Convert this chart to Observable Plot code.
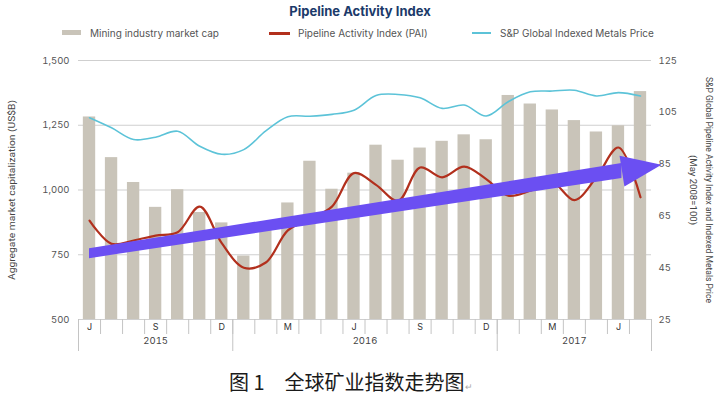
<!DOCTYPE html>
<html><head><meta charset="utf-8">
<script src="https://cdn.jsdelivr.net/npm/d3@7"></script>
<script src="https://cdn.jsdelivr.net/npm/@observablehq/plot@0.6"></script>
<style>
body{margin:0;background:#fff;width:720px;height:397px;overflow:hidden;position:relative;font-family:Inter,Roboto,sans-serif}
#title{position:absolute;top:3px;left:0;width:720px;text-align:center;font-weight:700;font-size:13px;line-height:16px;color:#1b3a6a}
.lt{position:absolute;top:27px;font-size:10px;line-height:12px;color:#555;white-space:nowrap}
.sw{position:absolute}
#chart{position:absolute;top:46px;left:0}
#chart svg{overflow:visible}
#caption{position:absolute;left:229px;top:369px;font-family:"Noto Sans CJK SC",sans-serif;font-size:20px;line-height:26px;color:#1a1a1a;white-space:pre}
#caption span{font-size:9px;color:#aaa}
</style>
</head><body>
<div id="title">Pipeline Activity Index</div>
<div class="sw" style="left:62px;top:30px;width:19px;height:5px;background:#c9c4b9"></div>
<div class="lt" style="left:90px">Mining industry market cap</div>
<div class="sw" style="left:269px;top:32px;width:21px;height:2.5px;background:#b2301d"></div>
<div class="lt" style="left:298px">Pipeline Activity Index (PAI)</div>
<div class="sw" style="left:472px;top:32px;width:19px;height:2px;background:#5cc3d8"></div>
<div class="lt" style="left:500px">S&amp;P Global Indexed Metals Price</div>
<div id="chart"></div>
<div id="caption">图 1　全球矿业指数走势图<span>↵</span></div>
<script>
// Monthly data, Jun 2015 – Jul 2017
const months = ["2015-06","2015-07","2015-08","2015-09","2015-10","2015-11","2015-12",
  "2016-01","2016-02","2016-03","2016-04","2016-05","2016-06","2016-07","2016-08","2016-09","2016-10","2016-11","2016-12",
  "2017-01","2017-02","2017-03","2017-04","2017-05","2017-06","2017-07"];
// Mining industry market cap (US$B, left axis)
const marketCap = [1282,1125,1029,933,1001,913,873, 745,843,950,1111,1003,1065,1173,1115,1162,1188,1213,1194, 1365,1332,1309,1268,1224,1248,1380];
// Pipeline Activity Index (right axis)
const pai = [63.2,54.2,55.5,57.4,58.7,68.6,54.5, 45,47,59.4,63.8,68.6,81.5,77,70.8,83.7,79.9,84,79.2, 72.8,74.7,77.9,71.1,79.9,91.4,72.2];
// S&P Global Indexed Metals Price (right axis)
const metals = [102.9,99,94.5,95.4,97.7,91.9,88.8, 90.6,97.8,103.3,103.5,104.2,105.8,111.5,111.9,110.6,106.5,107.8,103.6, 109.1,112.9,113.2,113.5,111.3,112.6,111.3];

// Axis ticks and labels
const leftTicks = [500,750,1000,1250,1500];
const gridValues = [500,750,1000,1250,1500];
const rightTicks = [25,45,65,85,105,125];
const monthLabelIdx = [0,3,6,9,12,15,18,21,24];
const monthLabelText = ["J","S","D","M","J","S","D","M","J"];
const years = ["2015","2016","2017"];
const yearStart = [0,7,19];
const yearEnd = [6,18,25];
const leftTitle = "Aggregate market capitalization (US$B)";
const rightTitle = "S&P Global Pipeline Activity Index and Indexed Metals Price";
const rightSub = "(May 2008=100)";

// Trend arrow annotation (month index, left-axis units)
const trendShaft = [{i:0, lo:735, hi:773},{i:24.16, lo:1044, hi:1102}];
const trendHead = [{i:24.16, v:1073}];

const toLeft = r => 500 + (r - 25) * 10;
const rows = months.map((m, i) => ({i, m, cap: marketCap[i], pai: pai[i], metals: metals[i]}));
const monthEdges = d3.range(months.length + 1).map(k => k - 0.5);
const yearEdges = [yearStart[0] - 0.5, ...yearEnd.map(e => e + 0.5)];
const yearCenters = yearStart.map((s, k) => (s + yearEnd[k]) / 2);

const headSymbol = {draw(ctx){ctx.moveTo(0,-40);ctx.lineTo(15.5,0);ctx.lineTo(-15.5,0);ctx.closePath();}};
const purple = "#6b4ff2";
const narrow = "Roboto, sans-serif";

const chart = Plot.plot({
  width: 720, height: 314,
  marginTop: 14, marginBottom: 41, marginLeft: 78, marginRight: 69,
  x: {domain: [-0.5, 25.5], axis: null, label: null},
  y: {domain: [500, 1500], axis: null, label: null},
  style: {fontFamily: "Inter, Roboto, sans-serif", fontSize: "9.5px", color: "#555", background: "#fff", overflow: "visible"},
  marks: [
    Plot.ruleY(gridValues, {stroke: "#cfcfcf", strokeWidth: 1}),
    Plot.rectY(rows, {x1: d => d.i - 0.28, x2: d => d.i + 0.28, y1: d => 500, y2: "cap", fill: "#c9c4b9"}),
    Plot.line(rows, {x: "i", y: d => toLeft(d.metals), stroke: "#5cc3d8", strokeWidth: 1.6, curve: "catmull-rom"}),
    Plot.line(rows, {x: "i", y: d => toLeft(d.pai), stroke: "#b2301d", strokeWidth: 2.2, curve: "catmull-rom"}),
    Plot.axisY(leftTicks, {anchor: "left", tickSize: 0, tickPadding: 9, label: null, tickFormat: d3.format(","), fill: "#555"}),
    Plot.axisY(rightTicks.map(toLeft), {anchor: "right", tickSize: 0, tickPadding: 7, label: null, tickFormat: v => String(Math.round((v - 500) / 10 + 25)), fill: "#555"}),
    Plot.axisX(monthEdges, {tickSize: 15, tickFormat: () => "", label: null, stroke: "#c4c4c4"}),
    Plot.axisX(yearEdges, {tickSize: 32, tickFormat: () => "", label: null, stroke: "#c4c4c4"}),
    Plot.axisX(monthLabelIdx, {tickSize: 0, tickPadding: 4, label: null, tickFormat: (d, k) => monthLabelText[k], fill: "#333", fontSize: 9}),
    Plot.axisX(yearCenters, {tickSize: 0, tickPadding: 18, label: null, tickFormat: (d, k) => years[k], fill: "#444", fontSize: 9.5}),
    Plot.text([leftTitle], {frameAnchor: "left", dx: -66, rotate: -90, fontSize: 8.5, fontFamily: narrow, fill: "#444", className: "ttl-left"}),
    Plot.text([rightTitle], {frameAnchor: "right", dx: 57, rotate: 90, fontSize: 8.5, fontFamily: narrow, fill: "#444", className: "ttl-right"}),
    Plot.text([rightSub], {frameAnchor: "right", dx: 41, rotate: 90, fontSize: 8.5, fontFamily: narrow, fill: "#444", className: "ttl-sub"}),
    Plot.areaY(trendShaft, {x: "i", y1: "lo", y2: "hi", fill: purple}),
    Plot.dot(trendHead, {x: "i", y: "v", symbol: headSymbol, fill: purple, stroke: "none", rotate: 81})
  ]
});
// Condense the axis titles to the reference's text lengths, keeping them centred
[["ttl-left", 180], ["ttl-right", 226], ["ttl-sub", 70]].forEach(([cls, len]) => {
  chart.querySelectorAll(`.${cls} text`).forEach(t => {
    t.setAttribute("text-anchor", "start");
    t.setAttribute("x", -len / 2);
    t.setAttribute("textLength", len);
    t.setAttribute("lengthAdjust", "spacingAndGlyphs");
  });
  chart.querySelectorAll(`g.${cls}`).forEach(g => g.setAttribute("text-anchor", "start"));
});
document.getElementById("chart").appendChild(chart);
</script>
</body></html>
